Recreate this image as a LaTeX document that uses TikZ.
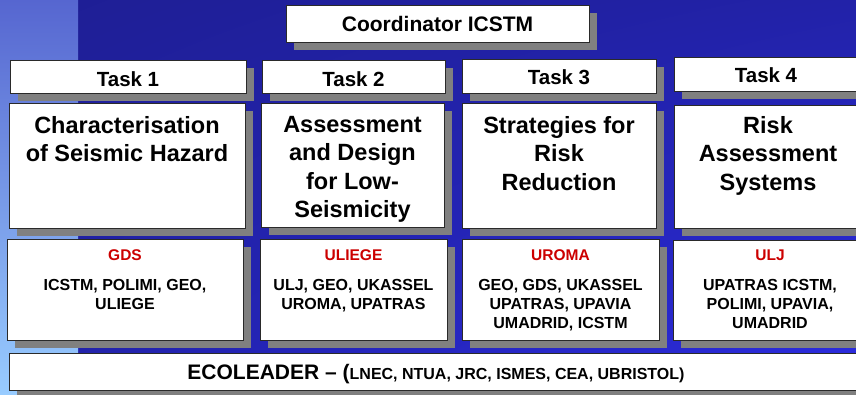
\documentclass[tikz,border=0pt]{standalone}
\usepackage{fontspec}
\usetikzlibrary{shadings}
\setmainfont{Liberation Sans}
\definecolor{bgdark}{HTML}{1E1E94}
\definecolor{bgmid}{HTML}{2222A8}
\definecolor{bgbright}{HTML}{2C2CE2}
\definecolor{striptop}{HTML}{5666D0}
\definecolor{stripbot}{HTML}{98CCFF}
\definecolor{shadowgrey}{HTML}{808080}
\definecolor{leadred}{HTML}{CC0000}
\definecolor{edge}{HTML}{2A2A2A}
\begin{document}
\begin{tikzpicture}[x=1pt,y=-1pt,
  box/.style={draw=edge, line width=0.8pt, fill=white, inner sep=0pt,
    preaction={draw=none, fill=shadowgrey, transform canvas={xshift=8pt, yshift=-8pt}}},
  tasklabel/.style={anchor=base, inner sep=0pt, font=\fontsize{20.5}{24}\selectfont\bfseries},
  topic/.style={anchor=north, inner sep=0pt, align=center, font=\fontsize{23.5}{28.5}\selectfont\bfseries},
  leader/.style={anchor=base, inner sep=0pt, text=leadred, font=\fontsize{15.5}{19}\selectfont\bfseries},
  partners/.style={anchor=north, inner sep=0pt, align=center, font=\fontsize{16}{19}\selectfont\bfseries}]
\useasboundingbox (0,0) rectangle (856,394);
\clip (0,0) rectangle (856,394);

% background panel and the lighter strip on the left
\shade[upper left=bgdark, upper right=bgmid, lower left=bgmid, lower right=bgbright] (0,0) rectangle (856,394);
\shade[top color=striptop, bottom color=stripbot] (0,0) rectangle (78,394);

% coordinator
\node[box, minimum width=303pt, minimum height=37pt] (coord) at (437.5,23.5) {};
\node[anchor=base, inner sep=0pt, font=\fontsize{21}{24}\selectfont\bfseries] (coordt) at (437.5,31.5) {Coordinator ICSTM};

% task headers
\node[box, minimum width=236pt, minimum height=33pt] (t1) at (128,76.5) {};
\node[box, minimum width=183pt, minimum height=33pt] (t2) at (353.5,76.5) {};
\node[box, minimum width=194pt, minimum height=34pt] (t3) at (559,76) {};
\node[box, minimum width=184pt, minimum height=34pt] (t4) at (766,74) {};
\node[tasklabel] (t1t) at (128,86) {Task 1};
\node[tasklabel] (t2t) at (353.5,86) {Task 2};
\node[tasklabel] (t3t) at (559,84) {Task 3};
\node[tasklabel] (t4t) at (766,82.5) {Task 4};

% task topics
\node[box, minimum width=236pt, minimum height=125pt] (c1) at (127,165.5) {};
\node[box, minimum width=183pt, minimum height=124pt] (c2) at (352.5,165) {};
\node[box, minimum width=194pt, minimum height=125pt] (c3) at (559,165.5) {};
\node[box, minimum width=188pt, minimum height=123pt] (c4) at (768,166.5) {};
\node[topic] (c1t) at (127,114.2) {\rule{0pt}{0.8em}Characterisation\\of Seismic Hazard};
\node[topic] (c2t) at (352.5,113.2) {\rule{0pt}{0.8em}Assessment\\and Design\\for Low-\\Seismicity};
\node[topic] (c3t) at (559,114.2) {\rule{0pt}{0.8em}Strategies for\\Risk\\Reduction};
\node[topic] (c4t) at (768,114.2) {\rule{0pt}{0.8em}Risk\\Assessment\\Systems};

% leaders and partners
\node[box, minimum width=236pt, minimum height=101pt] (p1) at (125,289.5) {};
\node[box, minimum width=187pt, minimum height=101pt] (p2) at (353.5,289.5) {};
\node[box, minimum width=197pt, minimum height=101pt] (p3) at (560.5,289.5) {};
\node[box, minimum width=194pt, minimum height=100pt] (p4) at (770,290) {};
\node[leader] (p1l) at (125,260.7) {GDS};
\node[leader] (p2l) at (353.5,260.7) {ULIEGE};
\node[leader] (p3l) at (560.5,260.7) {UROMA};
\node[leader] (p4l) at (770,260.7) {ULJ};
\node[partners] (p1t) at (125,277.2) {\rule{0pt}{0.8em}ICSTM, POLIMI, GEO,\\ULIEGE};
\node[partners] (p2t) at (353.5,277.2) {\rule{0pt}{0.8em}ULJ, GEO, UKASSEL\\UROMA, UPATRAS};
\node[partners] (p3t) at (560.5,277.2) {\rule{0pt}{0.8em}GEO, GDS, UKASSEL\\UPATRAS, UPAVIA\\UMADRID, ICSTM};
\node[partners] (p4t) at (770,277.2) {\rule{0pt}{0.8em}UPATRAS ICSTM,\\POLIMI, UPAVIA,\\UMADRID};

% project-wide partners
\node[box, minimum width=857pt, minimum height=37pt] (eco) at (437.5,371.5) {};
\node[anchor=base, inner sep=0pt, font=\bfseries] (ecot) at (436,379.5)
  {{\fontsize{21}{24}\selectfont ECOLEADER -- (}{\fontsize{16}{19}\selectfont LNEC, NTUA, JRC, ISMES, CEA, UBRISTOL)}};
\end{tikzpicture}
\end{document}
